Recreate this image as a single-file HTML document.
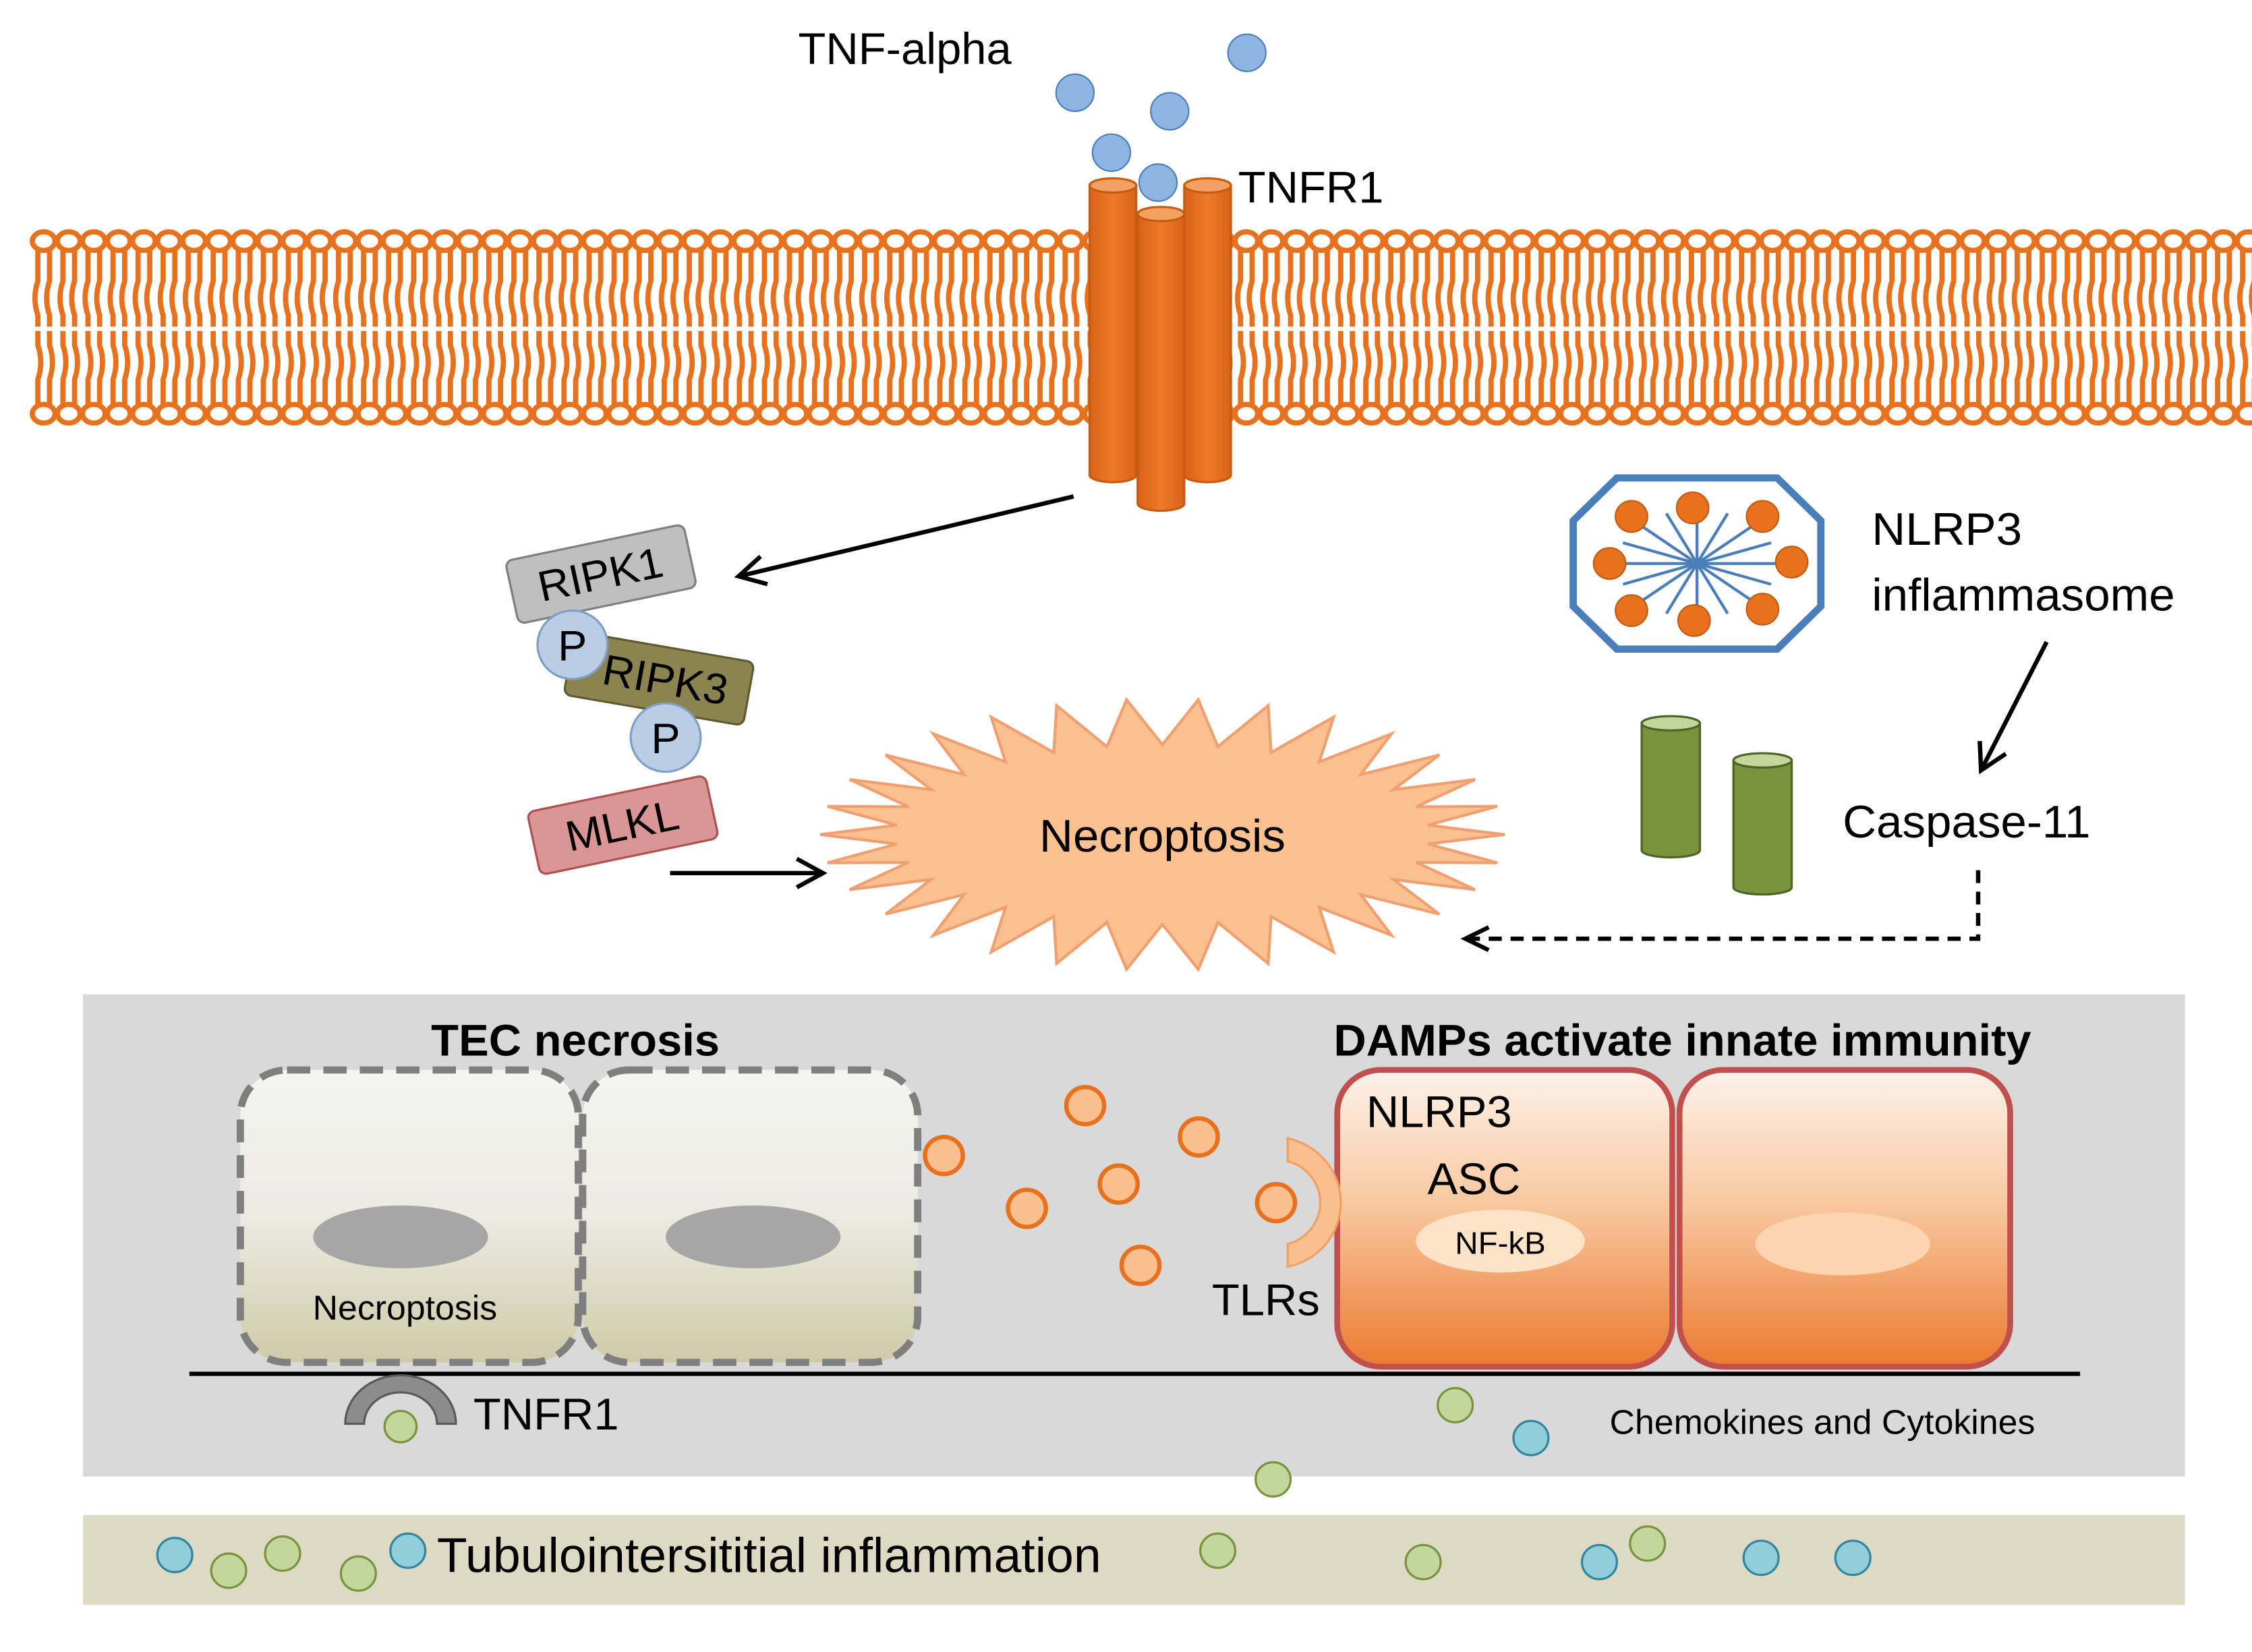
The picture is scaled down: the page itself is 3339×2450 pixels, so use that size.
<!DOCTYPE html>
<html><head><meta charset="utf-8"><style>
html,body{margin:0;padding:0;background:#fff}
svg{display:block}
text{font-family:"Liberation Sans",sans-serif}
</style></head><body>
<svg id="s" width="3339" height="2450" viewBox="0 0 1546 1158" preserveAspectRatio="none" xmlns="http://www.w3.org/2000/svg">
<defs>
<linearGradient id="tec" x1="0" y1="0" x2="0" y2="1"><stop offset="0" stop-color="#f4f4f2"/><stop offset="0.5" stop-color="#ecebe2"/><stop offset="1" stop-color="#cfcaa8"/></linearGradient>
<linearGradient id="red" x1="0" y1="0" x2="0" y2="1"><stop offset="0" stop-color="#fdf2ea"/><stop offset="0.45" stop-color="#f8c8a0"/><stop offset="1" stop-color="#ec7a30"/></linearGradient>
<linearGradient id="cyl" x1="0" y1="0" x2="1" y2="0"><stop offset="0" stop-color="#d8621a"/><stop offset="0.5" stop-color="#ee7a26"/><stop offset="1" stop-color="#d8621a"/></linearGradient>
<marker id="ah2" markerWidth="24" markerHeight="24" refX="20" refY="12" orient="auto" markerUnits="userSpaceOnUse"><path d="M2,2 L20,12 L2,22" fill="none" stroke="#000" stroke-width="3"/></marker>
</defs>
<g id="mem" stroke="#e8711e" fill="none" stroke-width="3.6"></g>
<g fill="#8fb4e3" stroke="#4a7ebb" stroke-width="1">
<circle cx="738" cy="65" r="13"/><circle cx="803" cy="78" r="13"/><circle cx="856" cy="37" r="13"/><circle cx="763" cy="107" r="13"/>
</g>
<text x="548" y="45" font-size="31">TNF-alpha</text>
<text x="850" y="142" font-size="31">TNFR1</text>
<g stroke="#c55a11" stroke-width="1.5">
<path d="M748,130 V333 A16,5 0 0 0 780,333 V130 Z" fill="url(#cyl)"/><ellipse cx="764" cy="130" rx="16" ry="5" fill="#f4a060"/>
<path d="M813,130 V333 A16,5 0 0 0 845,333 V130 Z" fill="url(#cyl)"/><ellipse cx="829" cy="130" rx="16" ry="5" fill="#f4a060"/>
<path d="M781,150 V353 A16,5 0 0 0 813,353 V150 Z" fill="url(#cyl)"/><ellipse cx="797" cy="150" rx="16" ry="5" fill="#f4a060"/>
</g>
<circle cx="795" cy="128" r="13" fill="#8fb4e3" stroke="#4a7ebb"/>
<line x1="737" y1="348" x2="507" y2="404" stroke="#000" stroke-width="3" marker-end="url(#ah2)"/>
<g transform="rotate(-12 412 402)"><rect x="350" y="380" width="125" height="45" rx="5" fill="#bfbfbf" stroke="#7f7f7f" stroke-width="1.5"/><text x="412" y="413" font-size="30" text-anchor="middle">RIPK1</text></g>
<g transform="rotate(10 452 475)"><rect x="390" y="453" width="125" height="45" rx="5" fill="#8c8450" stroke="#5f5a30" stroke-width="1.5"/><text x="457" y="486" font-size="30" text-anchor="middle">RIPK3</text></g>
<circle cx="393" cy="452" r="24" fill="#b9cde5" stroke="#7f9fc4" stroke-width="1.5"/><text x="393" y="463" font-size="30" text-anchor="middle">P</text>
<circle cx="457" cy="517" r="24" fill="#b9cde5" stroke="#7f9fc4" stroke-width="1.5"/><text x="457" y="528" font-size="30" text-anchor="middle">P</text>
<g transform="rotate(-12 427 578)"><rect x="365" y="556" width="125" height="45" rx="5" fill="#da9694" stroke="#b05050" stroke-width="1.5"/><text x="427" y="589" font-size="30" text-anchor="middle">MLKL</text></g>
<line x1="460" y1="612" x2="565" y2="612" stroke="#000" stroke-width="3" marker-end="url(#ah2)"/>
<path id="burst" fill="#fac090" stroke="#f0a070" stroke-width="2"/>
<text x="798" y="597" font-size="32" text-anchor="middle">Necroptosis</text>
<polygon points="1110,335 1220,335 1250,365 1250,425 1220,455 1110,455 1080,425 1080,365" fill="#fff" stroke="#4a7ebb" stroke-width="5"/>
<g id="star" stroke="#4a7ebb" stroke-width="2"></g>
<g id="odots" fill="#e8711e" stroke="#c05a10" stroke-width="1"></g>
<text x="1285" y="382" font-size="32">NLRP3</text>
<text x="1285" y="428" font-size="32">inflammasome</text>
<line x1="1405" y1="450" x2="1360" y2="540" stroke="#000" stroke-width="3" marker-end="url(#ah2)"/>
<g stroke="#4f6228" stroke-width="1.5">
<path d="M1127,507 V596 A20,5 0 0 0 1167,596 V507 Z" fill="#77933c"/><ellipse cx="1147" cy="507" rx="20" ry="5" fill="#c3d69b"/>
<path d="M1190,533 V622 A20,5 0 0 0 1230,622 V533 Z" fill="#77933c"/><ellipse cx="1210" cy="533" rx="20" ry="5" fill="#c3d69b"/>
</g>
<text x="1265" y="587" font-size="32">Caspase-11</text>
<path d="M1358,610 V658 H1008" fill="none" stroke="#000" stroke-width="3" stroke-dasharray="9,6"/>
<path d="M1022,650 L1006,658 L1022,666" fill="none" stroke="#000" stroke-width="3"/>
<rect x="57" y="697" width="1443" height="338" fill="#d9d9d9"/>
<text x="395" y="740" font-size="31" font-weight="bold" text-anchor="middle">TEC necrosis</text>
<text x="1155" y="740" font-size="31" font-weight="bold" text-anchor="middle">DAMPs activate innate immunity</text>
<rect x="165" y="750" width="232" height="205" rx="32" fill="url(#tec)" stroke="#7f7f7f" stroke-width="5" stroke-dasharray="16,9"/>
<rect x="400" y="750" width="230" height="205" rx="32" fill="url(#tec)" stroke="#7f7f7f" stroke-width="5" stroke-dasharray="16,9"/>
<ellipse cx="275" cy="867" rx="60" ry="22" fill="#a6a6a6"/><ellipse cx="517" cy="867" rx="60" ry="22" fill="#a6a6a6"/>
<text x="278" y="925" font-size="24" text-anchor="middle">Necroptosis</text>
<rect x="918" y="750" width="230" height="208" rx="30" fill="url(#red)" stroke="#c0504d" stroke-width="4"/>
<rect x="1153" y="750" width="227" height="208" rx="30" fill="url(#red)" stroke="#c0504d" stroke-width="4"/>
<text x="938" y="790" font-size="31">NLRP3</text>
<text x="980" y="837" font-size="31">ASC</text>
<ellipse cx="1030" cy="870" rx="58" ry="22" fill="#fde3c8"/><text x="1030" y="879" font-size="22" text-anchor="middle">NF-kB</text>
<ellipse cx="1265" cy="872" rx="60" ry="22" fill="#fcd5b0"/>
<line x1="130" y1="963" x2="1428" y2="963" stroke="#000" stroke-width="3"/>
<path d="M237,998 A38,34 0 0 1 313,998 L300,998 A25,22 0 0 0 250,998 Z" fill="#8c8c8c" stroke="#595959" stroke-width="1.5"/>
<circle cx="275" cy="1000" r="11" fill="#c3d69b" stroke="#77933c" stroke-width="1.5"/>
<text x="325" y="1002" font-size="31">TNFR1</text>
<g fill="#fabf8f" stroke="#e8711e" stroke-width="3">
<circle cx="648" cy="810" r="13"/><circle cx="745" cy="775" r="13"/><circle cx="823" cy="797" r="13"/><circle cx="768" cy="830" r="13"/><circle cx="705" cy="847" r="13"/><circle cx="783" cy="887" r="13"/><circle cx="876" cy="843" r="13"/>
</g>
<path d="M884,798 A46,46 0 0 1 884,888 L884,872 A30,30 0 0 0 884,814 Z" fill="#fabf8f" stroke="#f0a060" stroke-width="1.5"/>
<text x="832" y="922" font-size="31">TLRs</text>
<text x="1105" y="1005" font-size="24">Chemokines and Cytokines</text>
<g stroke-width="1.5">
<circle cx="999" cy="985" r="12" fill="#c3d69b" stroke="#77933c"/><circle cx="874" cy="1037" r="12" fill="#c3d69b" stroke="#77933c"/><circle cx="1051" cy="1008" r="12" fill="#92cddc" stroke="#31859c"/>
</g>
<rect x="57" y="1062" width="1443" height="63" fill="#ddd9c3"/>
<text x="300" y="1102" font-size="34">Tubulointersititial inflammation</text>
<g stroke-width="1.5">
<circle cx="120" cy="1090" r="12" fill="#92cddc" stroke="#31859c"/><circle cx="157" cy="1101" r="12" fill="#c3d69b" stroke="#77933c"/><circle cx="194" cy="1089" r="12" fill="#c3d69b" stroke="#77933c"/><circle cx="246" cy="1103" r="12" fill="#c3d69b" stroke="#77933c"/><circle cx="280" cy="1087" r="12" fill="#92cddc" stroke="#31859c"/><circle cx="836" cy="1087" r="12" fill="#c3d69b" stroke="#77933c"/><circle cx="977" cy="1095" r="12" fill="#c3d69b" stroke="#77933c"/><circle cx="1098" cy="1095" r="12" fill="#92cddc" stroke="#31859c"/><circle cx="1131" cy="1082" r="12" fill="#c3d69b" stroke="#77933c"/><circle cx="1209" cy="1092" r="12" fill="#92cddc" stroke="#31859c"/><circle cx="1272" cy="1092" r="12" fill="#92cddc" stroke="#31859c"/>
</g>
</svg>
<script>
var NS="http://www.w3.org/2000/svg";
function el(p,t,a){var e=document.createElementNS(NS,t);for(var k in a)e.setAttribute(k,a[k]);p.appendChild(e);return e;}
var m=document.getElementById("mem");
for(var x=30;x<1545;x+=17.2){
 el(m,"path",{d:"M"+(x-4)+",175 v22 q-4,12 0,24 v8 M"+(x+4)+",175 v22 q-4,12 0,24 v8"});
 el(m,"path",{d:"M"+(x-4)+",232 v10 q4,12 0,24 v18 M"+(x+4)+",232 v10 q4,12 0,24 v18"});
 el(m,"ellipse",{cx:x,cy:169,rx:7.8,ry:6.5,fill:"#fff"});
 el(m,"ellipse",{cx:x,cy:290,rx:7.8,ry:6.5,fill:"#fff"});
}
var b=document.getElementById("burst"),d="",n=30,cx=798,cy=585;
for(var i=0;i<2*n;i++){var a=Math.PI*i/n,r=(i%2==0)?1:0.78;var px=cx+235*r*Math.cos(a),py=cy+95*r*Math.sin(a)*(i%2==0?1:0.85);d+=(i?"L":"M")+px.toFixed(1)+","+py.toFixed(1);}
b.setAttribute("d",d+"Z");
var s=document.getElementById("star");
for(var i=0;i<8;i++){var a=Math.PI*i/8;el(s,"line",{x1:1165-55*Math.cos(a),y1:395-38*Math.sin(a),x2:1165+55*Math.cos(a),y2:395+38*Math.sin(a)});}
var o=document.getElementById("odots"),pts=[[1120,362],[1162,356],[1210,362],[1230,394],[1210,427],[1163,435],[1120,428],[1105,395]];
pts.forEach(function(p){el(o,"circle",{cx:p[0],cy:p[1],r:11});});
</script>
</body></html>
